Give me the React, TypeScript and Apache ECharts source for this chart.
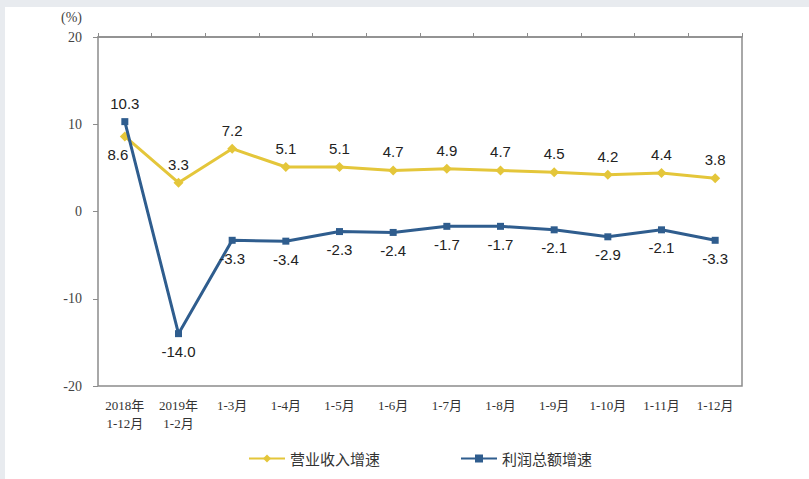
import React, { useEffect, useRef } from "react";
import * as echarts from "echarts";

const categories = [
  "2018年\n1-12月",
  "2019年\n1-2月",
  "1-3月",
  "1-4月",
  "1-5月",
  "1-6月",
  "1-7月",
  "1-8月",
  "1-9月",
  "1-10月",
  "1-11月",
  "1-12月",
];
const revenueGrowth = [8.6, 3.3, 7.2, 5.1, 5.1, 4.7, 4.9, 4.7, 4.5, 4.2, 4.4, 3.8];
const profitGrowth = [10.3, -14.0, -3.3, -3.4, -2.3, -2.4, -1.7, -1.7, -2.1, -2.9, -2.1, -3.3];
const seriesNames = ["营业收入增速", "利润总额增速"];
const yTicks = { min: -20, max: 20, interval: 10 };

const YELLOW = "#e4c63a";
const BLUE = "#2f5d8e";
const SERIF = "'Liberation Serif', 'DejaVu Serif', 'Noto Sans CJK SC', serif";
const SANS = "'Liberation Sans', Arial, 'Noto Sans CJK SC', sans-serif";

export default function App() {
  const ref = useRef<HTMLDivElement>(null);
  useEffect(() => {
    if (!ref.current) return;
    const chart = echarts.init(ref.current, undefined, { renderer: "svg" });
    const labelStyle = {
      show: true,
      fontFamily: SANS,
      fontSize: 15,
      color: "#222",
      formatter: (p: any) => Number(p.value).toFixed(1),
    };
    chart.setOption({
      animation: false,
      backgroundColor: "#ffffff",
      graphic: [
        { type: "rect", left: 0, top: 0, shape: { width: 809, height: 7 }, style: { fill: "#e8ebef" }, silent: true },
        { type: "rect", left: 0, top: 0, shape: { width: 5, height: 479 }, style: { fill: "#e8ebef" }, silent: true },
        {
          type: "text",
          left: 61,
          top: 10,
          style: { text: "(%)", font: `14px ${SERIF}`, fill: "#444" },
        },
      ],
      grid: {
        left: 98,
        top: 37,
        width: 644,
        height: 349,
        show: true,
        borderColor: "#8c8c8c",
        borderWidth: 1.5,
        backgroundColor: "transparent",
        outerBoundsMode: "none",
        containLabel: false,
      },
      legend: {
        bottom: 8,
        left: 243,
        itemGap: 80,
        itemWidth: 36,
        itemHeight: 10,
        textStyle: { fontFamily: "'Noto Sans CJK SC', sans-serif", fontSize: 15, color: "#333" },
        data: seriesNames,
      },
      xAxis: [
        {
          type: "category",
          data: categories,
          position: "bottom",
          boundaryGap: true,
          axisLine: { show: false },
          axisTick: { show: false },
          axisLabel: {
            interval: 0,
            margin: 10,
            fontFamily: SERIF,
            fontSize: 13,
            lineHeight: 18,
            color: "#333",
          },
          splitLine: { show: false },
        },
        {
          type: "category",
          data: categories,
          position: "top",
          boundaryGap: true,
          axisLine: { show: true, onZero: true, lineStyle: { color: "#8c8c8c", width: 1.5 } },
          axisTick: { show: true, inside: false, length: 4, interval: 0, lineStyle: { color: "#8c8c8c" } },
          axisLabel: { show: false },
          splitLine: { show: false },
        },
      ],
      yAxis: {
        type: "value",
        min: yTicks.min,
        max: yTicks.max,
        interval: yTicks.interval,
        axisLine: { show: false },
        axisTick: { show: true, length: 5, lineStyle: { color: "#8c8c8c" } },
        axisLabel: { margin: 16, fontFamily: SERIF, fontSize: 14, color: "#444" },
        splitLine: { show: false },
      },
      series: [
        {
          name: seriesNames[0],
          type: "line",
          xAxisIndex: 0,
          data: revenueGrowth.map((v, i) =>
            i === 0
              ? { value: v, label: { position: "bottom", offset: [-7, 0] } }
              : { value: v }
          ),
          color: YELLOW,
          lineStyle: { color: YELLOW, width: 3 },
          itemStyle: { color: YELLOW },
          symbol: "diamond",
          symbolSize: 10,
          label: { ...labelStyle, position: "top", distance: 6 },
          z: 3,
        },
        {
          name: seriesNames[1],
          type: "line",
          xAxisIndex: 0,
          data: profitGrowth.map((v, i) =>
            i === 0 ? { value: v, label: { position: "top" } } : { value: v }
          ),
          color: BLUE,
          lineStyle: { color: BLUE, width: 3 },
          itemStyle: { color: BLUE },
          symbol: "rect",
          symbolSize: 7,
          label: { ...labelStyle, position: "bottom", distance: 7 },
          z: 4,
        },
      ],
    });
    return () => chart.dispose();
  }, []);
  return (
    <div
      ref={ref}
      style={{ position: "fixed", left: 0, top: 0, width: 809, height: 479 }}
    />
  );
}
